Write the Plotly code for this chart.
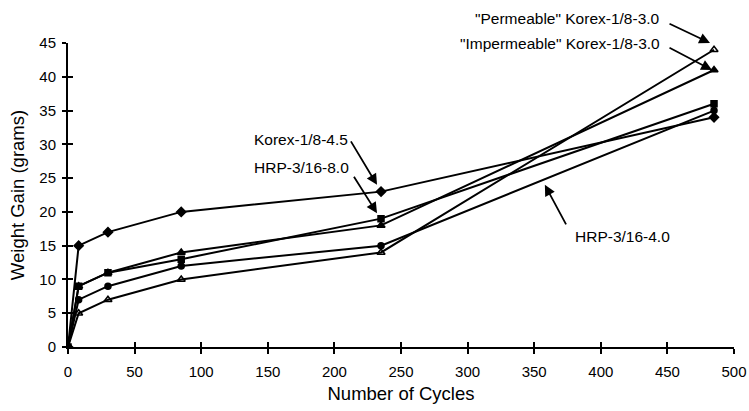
import plotly.graph_objects as go

cycles = [0, 8, 30, 85, 235, 485]
korex_45 = [0, 15, 17, 20, 23, 34]
hrp_80 = [0, 9, 11, 13, 19, 36]
hrp_40 = [0, 7, 9, 12, 15, 35]
korex_30_imperm = [0, 9, 11, 14, 18, 41]
korex_30_perm = [0, 5, 7, 10, 14, 44]

x_ticks = [0, 50, 100, 150, 200, 250, 300, 350, 400, 450, 500]
y_ticks = [0, 5, 10, 15, 20, 25, 30, 35, 40, 45]

series = [
    ("Korex-1/8-4.5", korex_45, "diamond", 7),
    ("HRP-3/16-8.0", hrp_80, "square", 6),
    ("HRP-3/16-4.0", hrp_40, "circle", 6),
    ('"Impermeable" Korex-1/8-3.0', korex_30_imperm, "triangle-up", 7),
    ('"Permeable" Korex-1/8-3.0', korex_30_perm, "triangle-up-open", 7),
]

fig = go.Figure()
for name, vals, sym, size in series:
    fig.add_trace(go.Scatter(
        x=cycles, y=vals, name=name, mode="lines+markers",
        line=dict(color="black", width=2),
        marker=dict(symbol=sym, size=size, color="black",
                    line=dict(color="black", width=1.5)),
        showlegend=False,
    ))

# invisible trace so overlay axes (for crossing ticks) render
fig.add_trace(go.Scatter(x=[None], y=[None], xaxis="x2", yaxis="y2",
                         showlegend=False, hoverinfo="skip"))

family = "Arial, Liberation Sans, sans-serif"
font = dict(family=family, size=15, color="black")
label_font = dict(family=family, size=15.5, color="black")

fig.update_layout(
    width=749, height=411,
    margin=dict(l=68, r=15, t=43, b=64),
    paper_bgcolor="white", plot_bgcolor="white",
    font=font,
    xaxis=dict(range=[0, 500], tickvals=x_ticks, ticks="outside", ticklen=5,
               tickwidth=1.5, tickcolor="black", showline=True, linecolor="black",
               linewidth=2, showgrid=False, zeroline=False, automargin=False,
               ticklabelstandoff=5,
               title=dict(text="Number of Cycles", font=dict(size=18.5), standoff=8)),
    yaxis=dict(range=[0, 45], tickvals=y_ticks, ticks="outside", ticklen=4,
               tickwidth=1.5, tickcolor="black", showline=True, linecolor="black",
               linewidth=2, showgrid=False, zeroline=False, automargin=False,
               ticklabelstandoff=3,
               title=dict(text="Weight Gain (grams)", font=dict(size=18.5), standoff=10)),
    xaxis2=dict(range=[0, 500], tickvals=x_ticks, ticks="inside", ticklen=5,
                tickwidth=1.5, tickcolor="black", overlaying="x", anchor="y2",
                showticklabels=False, showgrid=False, zeroline=False, showline=False),
    yaxis2=dict(range=[0, 45], tickvals=y_ticks, ticks="inside", ticklen=5,
                tickwidth=1.5, tickcolor="black", overlaying="y", anchor="x2",
                showticklabels=False, showgrid=False, zeroline=False, showline=False),
)

labels = [
    ('"Permeable" Korex-1/8-3.0', 446, 48.6 / 45, "right", "paper"),
    ('"Impermeable" Korex-1/8-3.0', 446, 45.0 / 45, "right", "paper"),
    ("Korex-1/8-4.5", 138, 30.7, "left", "y"),
    ("HRP-3/16-8.0", 138, 26.6, "left", "y"),
    ("HRP-3/16-4.0", 379, 16.3, "left", "y"),
]
for text, x, y, anchor, yref in labels:
    fig.add_annotation(x=x, y=y, yref=yref, text=text, showarrow=False,
                       xanchor=anchor, yanchor="middle", font=label_font)

# arrows: (x tip, y tip, y reference, tail offset x, tail offset y)
arrows = [
    (482, 45.0 / 45, "paper", -42, -20),
    (483.5, 41.0, "y", -44, -23),
    (232, 24.0, "y", -27, -45),
    (232, 19.8, "y", -24, -38),
    (358, 24.0, "y", 22, 41),
]
for x, y, yref, ax, ay in arrows:
    fig.add_annotation(x=x, y=y, yref=yref, ax=ax, ay=ay, text="", showarrow=True,
                       arrowhead=2, arrowsize=1.2, arrowwidth=1.8,
                       arrowcolor="black")

fig.write_html("out.html", config={"displayModeBar": False},
               post_script="document.body.style.margin='0';")
